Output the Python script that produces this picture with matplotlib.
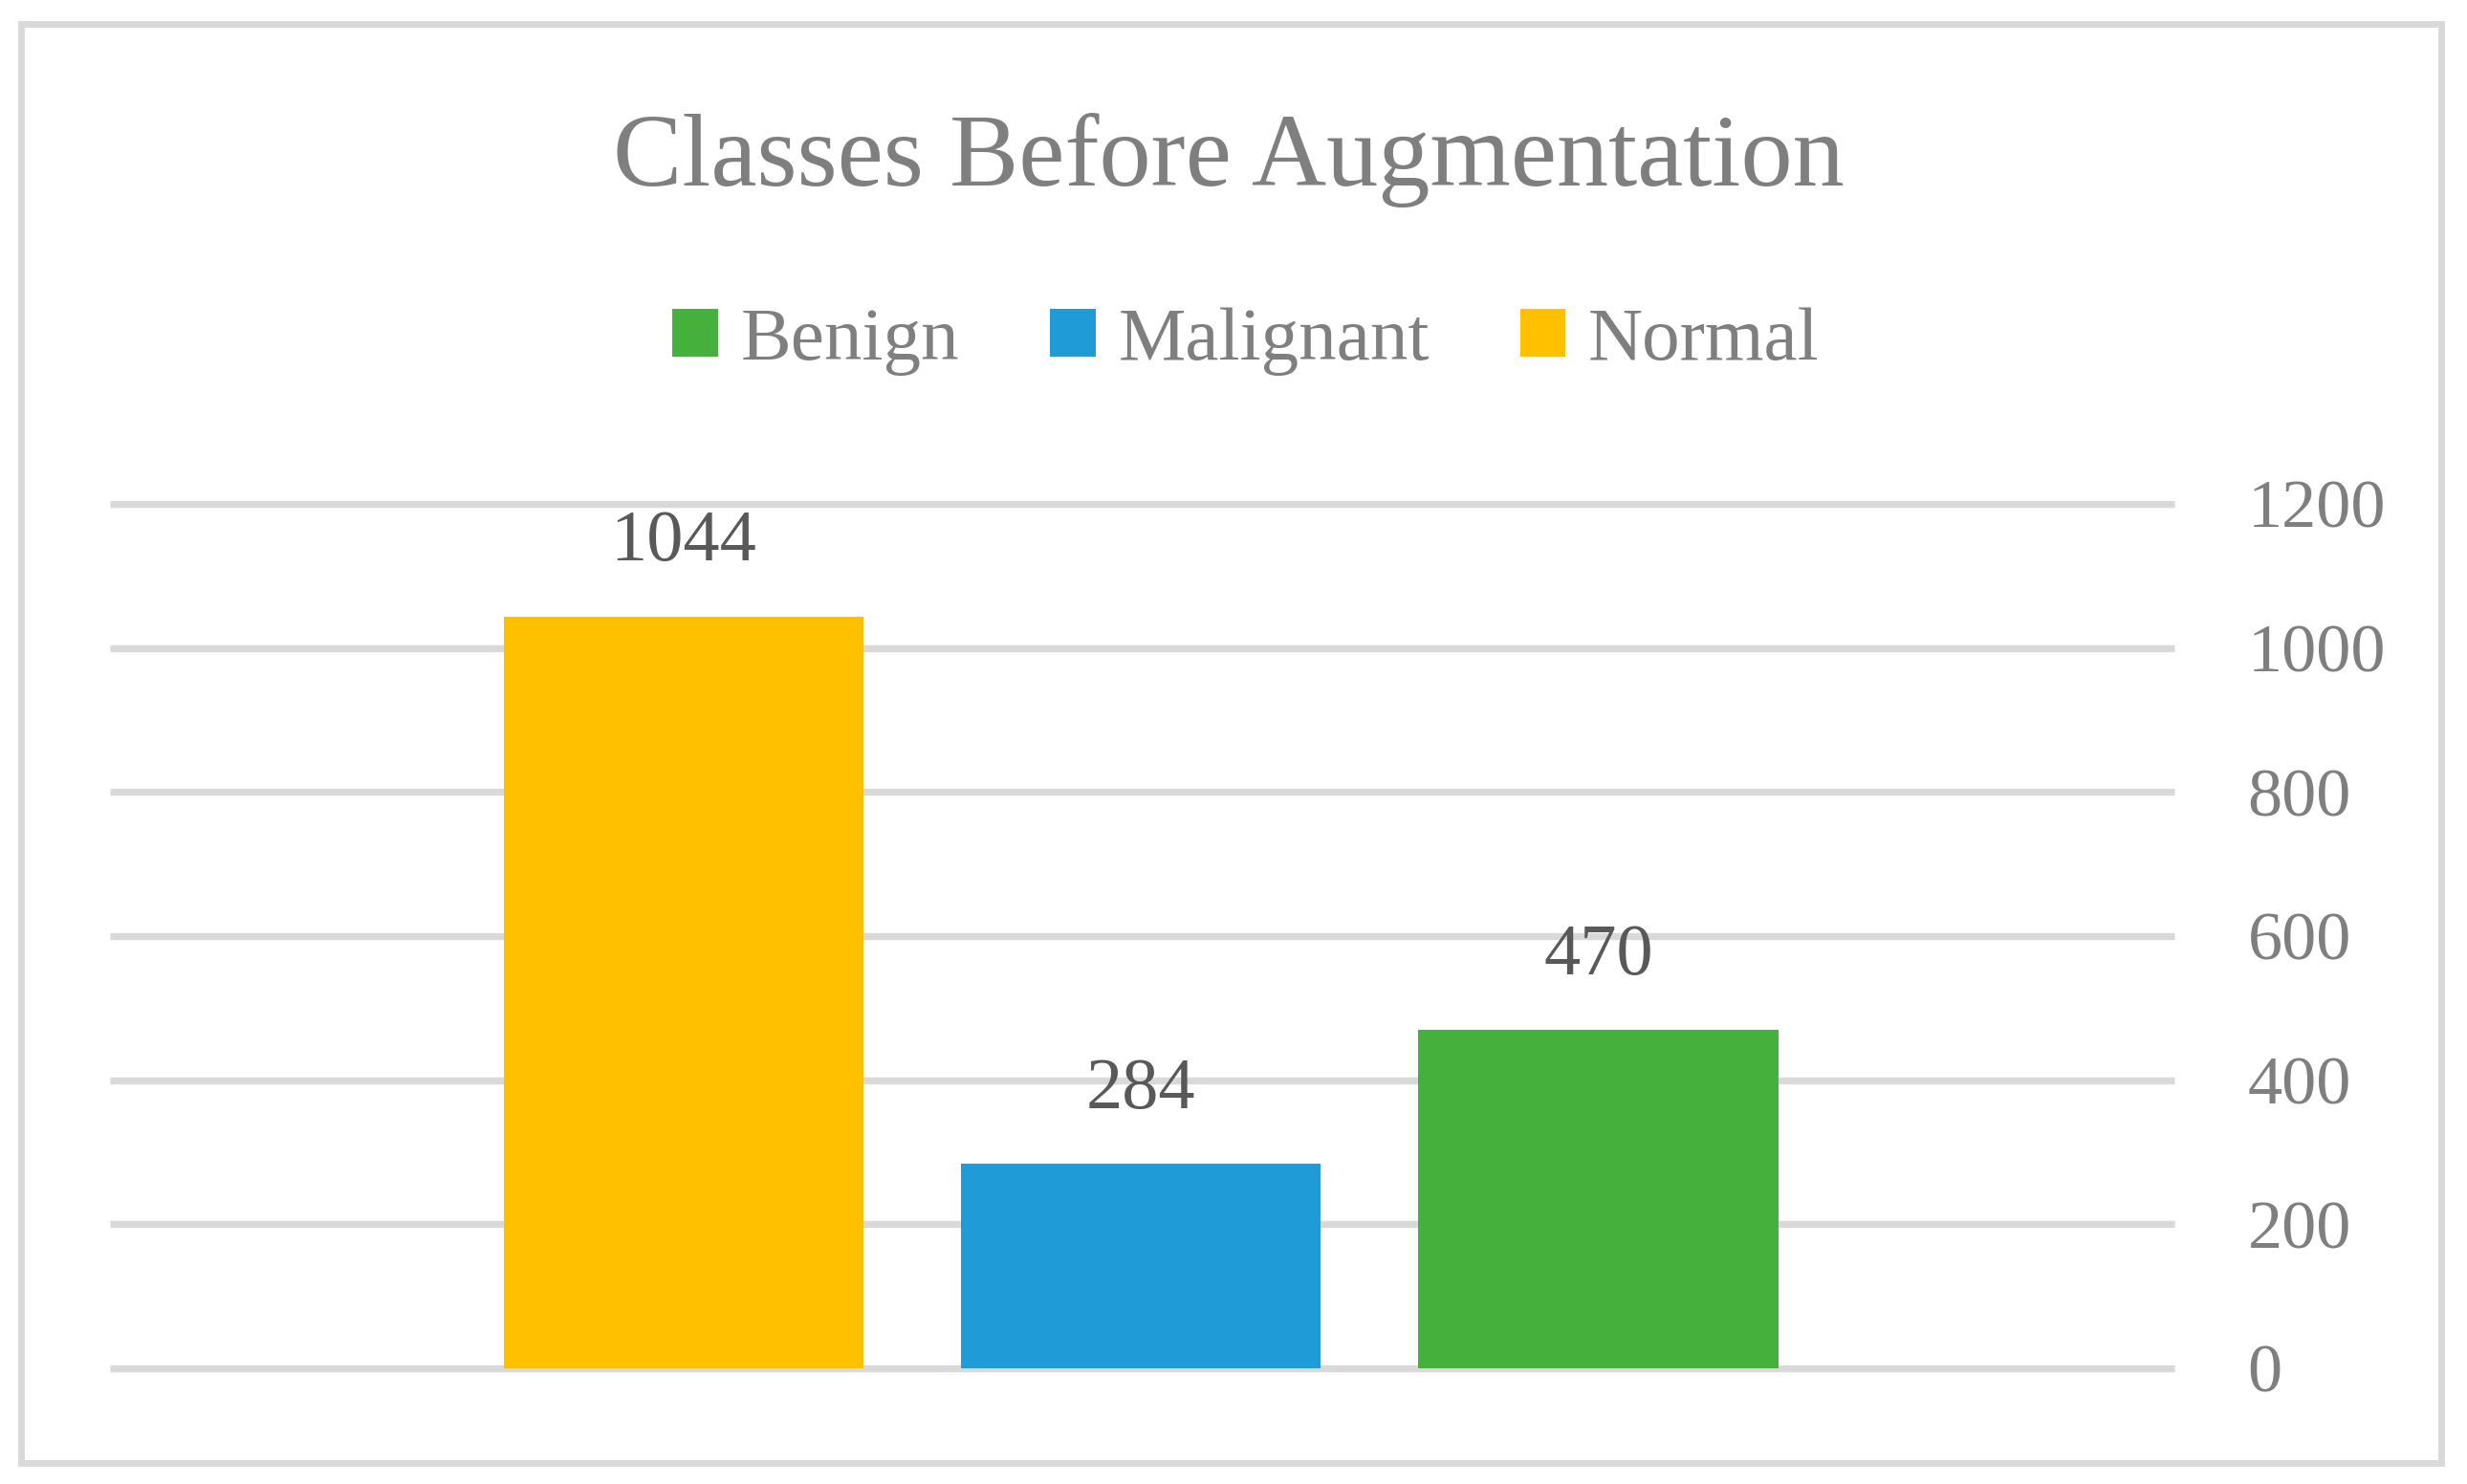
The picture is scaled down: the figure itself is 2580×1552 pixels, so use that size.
import matplotlib
matplotlib.use('Agg')
import matplotlib.pyplot as plt
from matplotlib.patches import Patch, Rectangle

# data
classes = ['Normal', 'Malignant', 'Benign']
counts = [1044, 284, 470]
bar_colors = ['#FFC000', '#1F9BD7', '#46B03C']
legend_order = ['Benign', 'Malignant', 'Normal']
yticks = [0, 200, 400, 600, 800, 1000, 1200]

plt.rcParams['font.family'] = ['Liberation Serif', 'DejaVu Serif']

W, H = 2580, 1552
fig = plt.figure(figsize=(W / 100, H / 100), dpi=100)

# axes box in pixels (left, bottom-from-top, right, top-from-top)
x0, x1 = 115, 2274
ytop, ybot = 527, 1431
ax = fig.add_axes([x0 / W, 1 - ybot / H, (x1 - x0) / W, (ybot - ytop) / H])

pos = list(range(len(classes)))
ax.bar(pos, counts, width=0.787, color=bar_colors, zorder=3)
for p, c in zip(pos, counts):
    ax.annotate(str(c), (p, c), xytext=(0, 42), textcoords='offset points',
                ha='center', va='baseline', fontsize=55, color='#595959')

ax.set_xlim(-1.255, 3.26)
ax.set_ylim(0, 1200)
ax.set_yticks(yticks)
ax.yaxis.tick_right()
ax.tick_params(axis='y', length=0, pad=55, labelsize=52, labelcolor='#7F7F7F')
ax.set_xticks([])
ax.grid(axis='y', color='#D9D9D9', linewidth=5.3, zorder=0)
for gl in ax.get_ygridlines():
    gl.set_clip_on(False)
    gl.set_solid_capstyle('butt')
for s in ax.spines.values():
    s.set_visible(False)
ax.patch.set_visible(False)

# title
fig.text(1285 / W, 1 - 194 / H, 'Classes Before Augmentation', ha='center',
         va='baseline', fontsize=78, color='#7F7F7F')

# legend
cmap = dict(zip(classes, bar_colors))
handles = [Patch(facecolor=cmap[n], edgecolor='none', label=n) for n in legend_order]
fig.legend(handles=handles, loc='center', bbox_to_anchor=(1303 / W, 1 - 357 / H),
           ncol=3, frameon=False, fontsize=57, labelcolor='#7F7F7F',
           handlelength=0.6, handleheight=0.6, handletextpad=0.3,
           columnspacing=1.2)

# outer chart frame
fig.patches.append(Rectangle((22 / W, 22 / H), (2553 - 22) / W, (1527 - 22) / H,
                             transform=fig.transFigure, fill=False,
                             edgecolor='#D9D9D9', linewidth=5))

fig.savefig('out.png', dpi=100)
